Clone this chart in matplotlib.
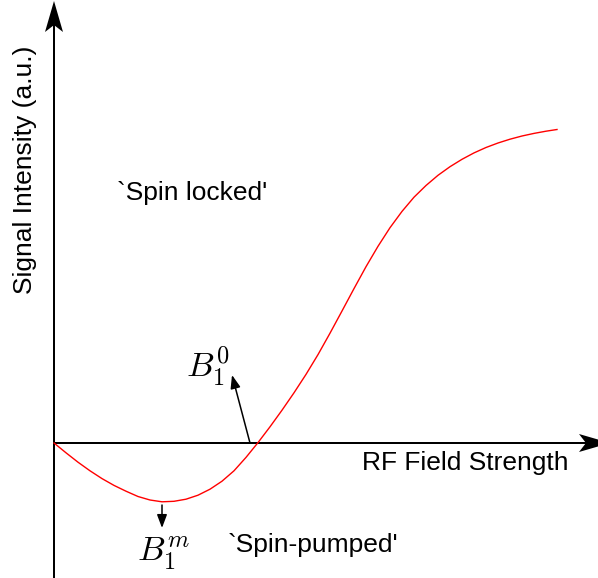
import matplotlib.pyplot as plt

plt.rcParams['font.family'] = ['Liberation Sans', 'DejaVu Sans']
plt.rcParams['mathtext.fontset'] = 'cm'

# response curve (arbitrary units, origin at axes crossing)
field = [0, 12, 24, 36, 48, 60, 72, 84, 96, 108, 120, 132, 144, 156,
         168, 180, 192, 204, 216, 228, 240, 252, 264, 276, 288, 300,
         312, 324, 336, 348, 360, 372, 384, 396, 408, 420, 432, 444,
         456, 468, 480, 492, 503]
signal = [0, -9.8, -19.2, -27.8, -35.6, -42.4, -48.2, -53.5, -57.0,
          -58.8, -58.3, -56.2, -52.2, -46.2, -38.2, -27.8, -14.4, 0.4,
          16.2, 32.8, 50.2, 68.6, 88.4, 109.8, 132.0, 154.4, 176.3,
          196.7, 215.3, 231.6, 245.8, 257.5, 267.7, 276.3, 283.7, 290.1,
          295.5, 300.0, 303.8, 307.0, 309.6, 311.8, 313.5]

fig = plt.figure(figsize=(5.98, 5.78), dpi=100)
ax = fig.add_axes([0, 0, 1, 1])
ax.set_xlim(-54, 544)
ax.set_ylim(-135, 443)
ax.axis("off")

# axes with swept-back arrow heads (1 data unit = 1 px)
head = dict(width=2.0, head_width=18, head_length=31, overhang=0.2,
            length_includes_head=True, color="black", lw=0)
ax.arrow(0, -135, 0, 577, **head)
ax.arrow(0, 0, 556, 0, **head)

ax.plot(field, signal, color="red", lw=1.0)

# markers for B1^0 and B1^m
small_arrow = dict(arrowstyle="-|>,head_length=0.8,head_width=0.3",
                   color="black", lw=1.1, shrinkA=0, shrinkB=0)
ax.annotate("", xy=(178, 68), xytext=(196, 0), arrowprops=small_arrow)
ax.annotate("", xy=(108, -85), xytext=(108, -62), arrowprops=small_arrow)

ax.text(154, 77, r"$B_1^0$", fontsize=25, ha="center", va="center")
ax.text(109, -110, r"$B_1^m$", fontsize=25, ha="center", va="center")

ax.text(411, -20, "RF Field Strength", fontsize=19, ha="center", va="center")
ax.text(138, 250, "`Spin locked'", fontsize=19, ha="center", va="center")
ax.text(259, -102, "`Spin-pumped'", fontsize=19, ha="center", va="center")
ax.text(-29, 273, "Signal Intensity (a.u.)", fontsize=19, rotation=90,
        ha="center", va="center")

fig.savefig("out.png", dpi=100)
